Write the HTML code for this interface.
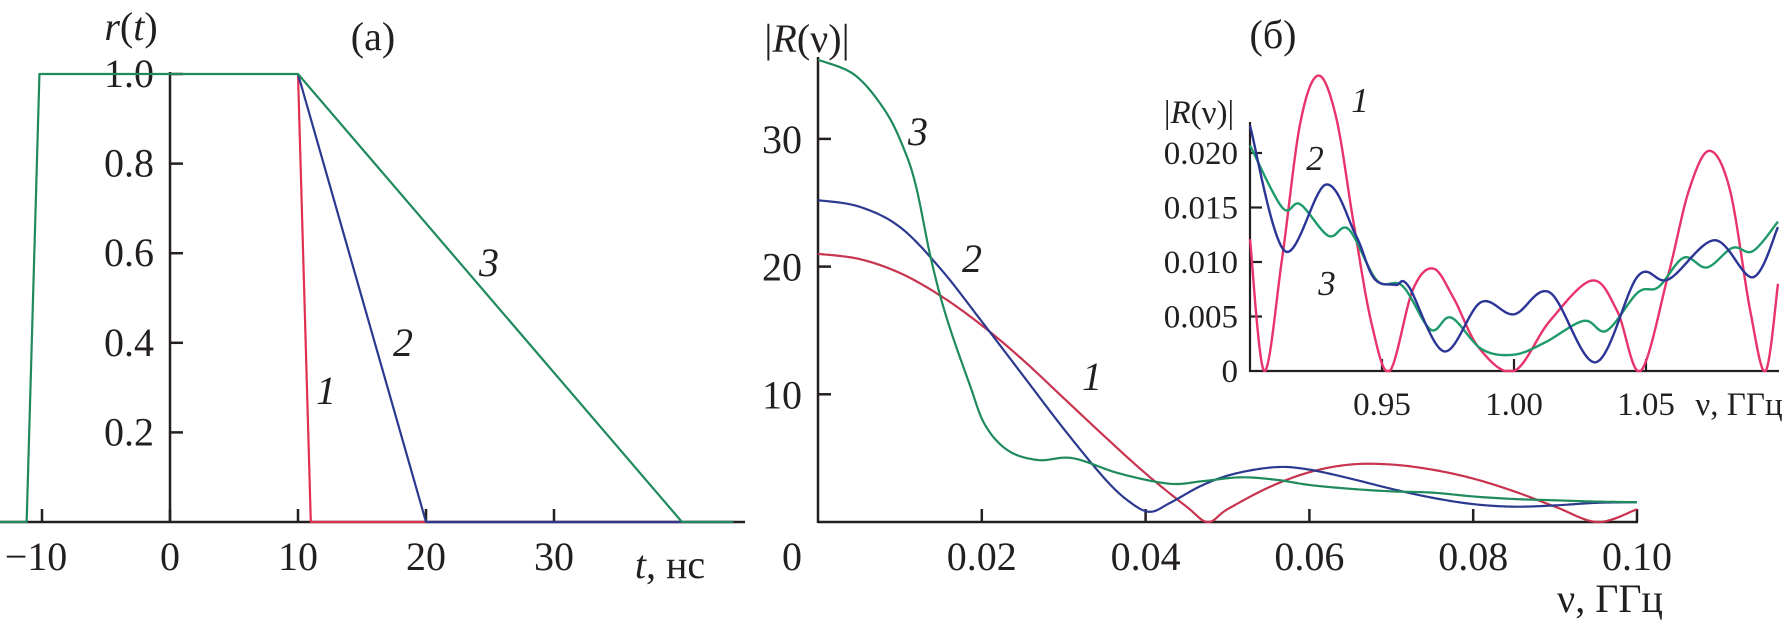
<!DOCTYPE html>
<html><head><meta charset="utf-8">
<style>
html,body{margin:0;padding:0;background:#fff;}
svg{display:block;}
text{font-family:"Liberation Serif",serif;fill:#231f20;}
.it{font-style:italic;}
</style></head>
<body>
<svg id="fig" width="1785" height="629" viewBox="0 0 1785 629" xmlns="http://www.w3.org/2000/svg">
  <g id="pa"></g>
  <g id="pb"></g>
  <g id="pc"></g>
</svg>
<script>
// ---- Panel (a): r(t) ----
const aTicksX = [-10, 0, 10, 20, 30];
const aTicksY = [0.2, 0.4, 0.6, 0.8, 1.0];
const aRedT = [10, 11, 44];
const aRedR = [1, 0, 0];
const aBlueT = [10, 20, 44];
const aBlueR = [1, 0, 0];
const aGreenT = [-13.3, -11.2, -10.2, 10, 40, 44];
const aGreenR = [0, 0, 1, 1, 0, 0];

// ---- Panel (b): |R(nu)| main ----
const bTicksX = [0.02, 0.04, 0.06, 0.08, 0.10];
const bTickLabelsX = ["0.02", "0.04", "0.06", "0.08", "0.10"];
const bTicksY = [10, 20, 30];
const bRedNu = [0,.005,.01,.015,.02,.025,.03,.035,.04,.045,.0476,.05,.055,.06,.065,.07,.075,.08,.085,.09,.0952,.1];
const bRedV = [21,20.6,19.5,17.7,15.4,12.7,9.7,6.7,3.8,1.2,0,1.0,2.7,3.9,4.5,4.5,4.1,3.4,2.4,1.2,0,1.0];
const bBlueNu = [0,.005,.01,.015,.02,.025,.03,.035,.038,.0405,.043,.047,.051,.056,.06,.065,.07,.075,.08,.085,.09,.095,.1];
const bBlueV = [25.2,24.7,23.1,19.8,15.7,11.5,7.3,3.4,1.6,0.8,1.5,2.9,3.8,4.3,4.1,3.4,2.6,1.9,1.4,1.2,1.3,1.5,1.55];
const bGreenNu = [0,.0045,.0082,.0105,.012,.0138,.0157,.0185,.0204,.0232,.0269,.0311,.0368,.0429,.047,.0516,.056,.06,.065,.07,.075,.08,.085,.09,.095,.1];
const bGreenV = [36.2,35.0,32.2,29.2,26.2,20.6,16.0,10.8,7.6,5.6,4.85,5.0,3.8,3.0,3.2,3.5,3.3,2.9,2.6,2.4,2.3,2.0,1.8,1.7,1.6,1.55];

// ---- Inset ----
const cTicksX = [0.95, 1.00, 1.05];
const cTickLabelsX = ["0.95", "1.00", "1.05"];
const cTicksY = [0, 0.005, 0.010, 0.015, 0.020];
const cTickLabelsY = ["0", "0.005", "0.010", "0.015", "0.020"];
const cRedNu = [0.900,0.9054,0.9122,0.9190,0.9258,0.9326,0.9393,0.9461,0.9529,0.9616,0.9694,0.9771,0.9868,1.0,1.0136,1.0295,1.0391,1.0479,1.0585,1.0663,1.0740,1.0818,1.0895,1.0953,1.100];
const cRedV = [0.0121,0,0.0104,0.0227,0.0271,0.0233,0.0135,0.0043,0,0.0074,0.0094,0.0067,0.0021,0,0.0046,0.0083,0.0055,0,0.0089,0.0166,0.0202,0.0166,0.0055,0,0.0080];
const cBlueNu = [0.9,0.9132,0.9287,0.94,0.947,0.955,0.96,0.9735,0.9874,1.0,1.0136,1.031,1.0469,1.0585,1.076,1.0905,1.1];
const cBlueV = [0.0225,0.0110,0.0171,0.0125,0.0085,0.0079,0.0078,0.0018,0.0063,0.0052,0.0072,0.0008,0.0087,0.0084,0.0120,0.0086,0.0132];
const cGreenNu = [0.9,0.9122,0.919,0.9297,0.9374,0.9481,0.9578,0.9684,0.9762,0.9878,1.0,1.0116,1.0264,1.0351,1.0469,1.0547,1.0643,1.0731,1.0828,1.0905,1.1];
const cGreenV = [0.0207,0.0150,0.0153,0.0124,0.0130,0.0083,0.0078,0.0038,0.0049,0.0020,0.0015,0.0026,0.0046,0.0037,0.0072,0.0077,0.0104,0.0095,0.0113,0.0110,0.0137];

const NS = "http://www.w3.org/2000/svg";
function mk(parent, tag, attrs, txt){
  const e = document.createElementNS(NS, tag);
  for (const k in attrs) e.setAttribute(k, attrs[k]);
  if (txt !== undefined) e.textContent = txt;
  parent.appendChild(e);
  return e;
}
function smoothPath(xs, ys, sx, sy){
  const P = xs.map((x,i)=>[x, ys[i]]);
  let d = "";
  for (let i=0;i<P.length-1;i++){
    const p0=P[Math.max(0,i-1)], p1=P[i], p2=P[i+1], p3=P[Math.min(P.length-1,i+2)];
    for (let s=0;s<=20;s++){
      if (i>0 && s===0) continue;
      const t=s/20, t2=t*t, t3=t2*t;
      const f=(a,b,c,e)=>0.5*((2*b)+(-a+c)*t+(2*a-5*b+4*c-e)*t2+(-a+3*b-3*c+e)*t3);
      const x=f(p0[0],p1[0],p2[0],p3[0]);
      let y=f(p0[1],p1[1],p2[1],p3[1]);
      if (y<0) y=0;
      d += (d?"L":"M")+sx(x).toFixed(2)+","+sy(y).toFixed(2);
    }
  }
  return d;
}

// Panel (a)
const pa = document.getElementById('pa');
const ax = t => 170 + t*12.8;
const ay = r => 522 - r*448;
let e;
e = mk(pa,'line',{x1:0,y1:522,x2:745,y2:522,stroke:'#231f20','stroke-width':2.5});
 
e = mk(pa,'line',{x1:170,y1:522,x2:170,y2:72,stroke:'#231f20','stroke-width':2.5});
 
aTicksX.forEach(v=>{
  e = mk(pa,'line',{x1:ax(v),y1:522,x2:ax(v),y2:509,stroke:'#231f20','stroke-width':2.5});
   
  e = mk(pa,'text',{x:ax(v)-(v<0?6:0),y:570,'font-size':40,'text-anchor':'middle'}, v<0?('\u2212'+(-v)):String(v));
   
});
aTicksY.forEach(v=>{
  e = mk(pa,'line',{x1:170,y1:ay(v),x2:183,y2:ay(v),stroke:'#231f20','stroke-width':2.5});
   
  e = mk(pa,'text',{x:154,y:ay(v)+13,'font-size':40,'text-anchor':'end'}, v.toFixed(1));
   
});
function polyA(ts, rs, col, name){
  const d = ts.map((t,i)=>(i?'L':'M')+ax(t)+','+ay(rs[i])).join('');
  const p = mk(pa,'path',{d:d,fill:'none',stroke:col,'stroke-width':2.2,'stroke-linejoin':'round'});
   
}
polyA(aRedT,aRedR,'#e0304f','a-curve-1');
polyA(aBlueT,aBlueR,'#2b3a8f','a-curve-2');
polyA(aGreenT,aGreenR,'#1f8a5c','a-curve-3');

// Panel (b)
const pb = document.getElementById('pb');
const bx = n => 818 + n*8190;
const by = v => 522 - v*12.77;
e = mk(pb,'line',{x1:818,y1:522,x2:1638,y2:522,stroke:'#231f20','stroke-width':2.5});
 
e = mk(pb,'line',{x1:818,y1:523,x2:818,y2:57,stroke:'#231f20','stroke-width':2.5});
 
bTicksX.forEach((v,i)=>{
  e = mk(pb,'line',{x1:bx(v),y1:522,x2:bx(v),y2:509,stroke:'#231f20','stroke-width':2.5});
   
  e = mk(pb,'text',{x:bx(v),y:570,'font-size':40,'text-anchor':'middle'}, bTickLabelsX[i]);
   
});
e = mk(pb,'text',{x:792,y:570,'font-size':40,'text-anchor':'middle'},'0');
 
bTicksY.forEach(v=>{
  e = mk(pb,'line',{x1:818,y1:by(v),x2:831,y2:by(v),stroke:'#231f20','stroke-width':2.5});
   
  e = mk(pb,'text',{x:802,y:by(v)+14,'font-size':40,'text-anchor':'end'}, String(v));
   
});
function curveB(xs, ys, col, name){
  const p = mk(pb,'path',{d:smoothPath(xs,ys,bx,by),fill:'none',stroke:col,'stroke-width':2.2});
   
}
curveB(bRedNu,bRedV,'#c8344f','b-curve-1');
curveB(bBlueNu,bBlueV,'#2b3a8f','b-curve-2');
curveB(bGreenNu,bGreenV,'#1f8a5c','b-curve-3');

// Inset
const pc = document.getElementById('pc');
const cx = n => 1250 + (n-0.9)*2640;
const cy = v => 371 - v*10900;
e = mk(pc,'line',{x1:1250,y1:371,x2:1779,y2:371,stroke:'#231f20','stroke-width':2.2});
 
e = mk(pc,'line',{x1:1250,y1:372,x2:1250,y2:122,stroke:'#231f20','stroke-width':2.2});
 
cTicksX.forEach((v,i)=>{
  e = mk(pc,'line',{x1:cx(v),y1:371,x2:cx(v),y2:359,stroke:'#231f20','stroke-width':2.2});
   
  e = mk(pc,'text',{x:cx(v),y:415,'font-size':33,'text-anchor':'middle'}, cTickLabelsX[i]);
   
});
cTicksY.forEach((v,i)=>{
  if (v>0){
    e = mk(pc,'line',{x1:1250,y1:cy(v),x2:1262,y2:cy(v),stroke:'#231f20','stroke-width':2.2});
     
  }
  e = mk(pc,'text',{x:1238,y:cy(v)+11,'font-size':33,'text-anchor':'end'}, cTickLabelsY[i]);
   
});
function curveC(xs, ys, col, name){
  const p = mk(pc,'path',{d:smoothPath(xs,ys,cx,cy),fill:'none',stroke:col,'stroke-width':2.4});
   
}
curveC(cRedNu,cRedV,'#e8336b','inset-curve-1');
curveC(cGreenNu,cGreenV,'#1f9a6a','inset-curve-3');
curveC(cBlueNu,cBlueV,'#2b3596','inset-curve-2');
</script>
<script>
const fig = document.getElementById('fig');
function lbl(x,y,size,txt,name,cls,anchor){
  const t = document.createElementNS("http://www.w3.org/2000/svg",'text');
  t.setAttribute('x',x); t.setAttribute('y',y); t.setAttribute('font-size',size);
  if (cls) t.setAttribute('class',cls);
  t.setAttribute('text-anchor',anchor||'middle');
  t.textContent = txt;
  
  
  fig.appendChild(t);
  return t;
}
let t;
t = document.createElementNS("http://www.w3.org/2000/svg",'text');
t.setAttribute('x',131); t.setAttribute('y',40); t.setAttribute('font-size',40); t.setAttribute('text-anchor','middle');
t.innerHTML = '<tspan font-style="italic">r</tspan>(<tspan font-style="italic">t</tspan>)';
 
fig.appendChild(t);
lbl(373,50,40,'(a)','panel-a-title');
t = document.createElementNS("http://www.w3.org/2000/svg",'text');
t.setAttribute('x',670); t.setAttribute('y',578); t.setAttribute('font-size',40); t.setAttribute('text-anchor','middle');
t.innerHTML = '<tspan font-style="italic">t</tspan>, нс';
 
fig.appendChild(t);
lbl(326,404,40,'1','a-label-1','it');
lbl(403,356,40,'2','a-label-2','it');
lbl(489,276,40,'3','a-label-3','it');

t = document.createElementNS("http://www.w3.org/2000/svg",'text');
t.setAttribute('x',807); t.setAttribute('y',52); t.setAttribute('font-size',40); t.setAttribute('text-anchor','middle');
t.innerHTML = '|<tspan font-style="italic">R</tspan>(ν)|';
 
fig.appendChild(t);
lbl(1610,612,40,'ν, ГГц','b-x-axis-title');
lbl(1092,390,40,'1','b-label-1','it');
lbl(972,272,40,'2','b-label-2','it');
lbl(918,145,40,'3','b-label-3','it');

lbl(1273,48,40,'(б)','panel-b-title');
t = document.createElementNS("http://www.w3.org/2000/svg",'text');
t.setAttribute('x',1199); t.setAttribute('y',123); t.setAttribute('font-size',33); t.setAttribute('text-anchor','middle');
t.innerHTML = '|<tspan font-style="italic">R</tspan>(ν)|';
 
fig.appendChild(t);
lbl(1739,415,33,'ν, ГГц','inset-x-axis-title');
lbl(1360,112,35,'1','inset-label-1','it');
lbl(1315,170,35,'2','inset-label-2','it');
lbl(1327,295,35,'3','inset-label-3','it');
</script>
</body></html>
